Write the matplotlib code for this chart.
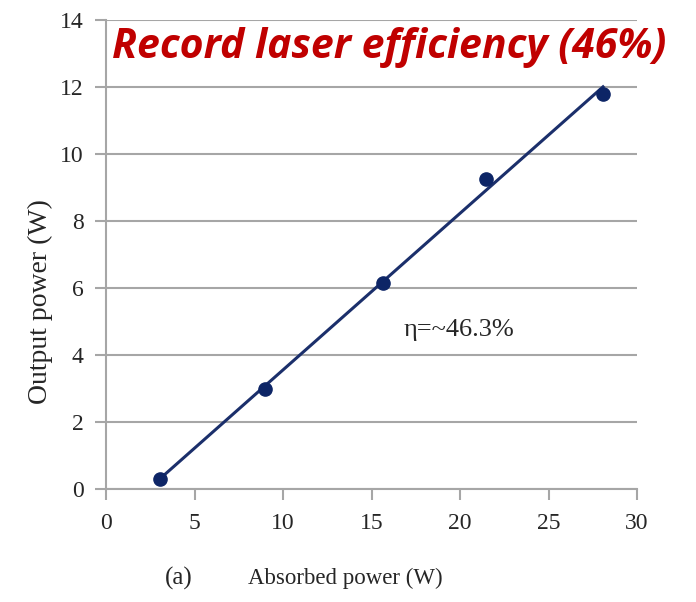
import numpy as np
import matplotlib
matplotlib.use("Agg")
import matplotlib.pyplot as plt

absorbed = [3.05, 8.98, 15.65, 21.47, 28.08]
output = [0.30, 3.00, 6.15, 9.25, 11.80]
x_ticks = [0, 5, 10, 15, 20, 25, 30]
y_ticks = [0, 2, 4, 6, 8, 10, 12, 14]
title = "Record laser efficiency (46%)"
annot = "η=~46.3%"

fig = plt.figure(figsize=(6.96, 6.02), dpi=100)
ax = fig.add_axes([106/696, 1-489/602, (637-106)/696, (489-20)/602])

grey = "#a6a6a6"
navy = "#1b2f6b"
txt = "#262626"

# fitted line
slope, inter = np.polyfit(absorbed, output, 1)
xs = np.array([min(absorbed), max(absorbed)])
ax.plot(xs, slope*xs + inter, color=navy, lw=2.2, zorder=3)
ax.plot(absorbed, output, 'o', color="#0d2566", ms=9.5, zorder=4)

ax.set_xlim(0, 30)
ax.set_ylim(0, 14)
ax.set_xticks(x_ticks)
ax.set_yticks(y_ticks)
ax.yaxis.grid(True, color=grey, lw=1.5)
ax.set_axisbelow(True)
for s in ["top", "right"]:
    ax.spines[s].set_visible(False)
for s in ["left", "bottom"]:
    ax.spines[s].set_color(grey)
    ax.spines[s].set_linewidth(1.5)
serif = "Liberation Serif"
ax.tick_params(axis="both", colors=grey, length=8, width=1.5, direction="out")
ax.tick_params(axis="y", pad=8)
ax.tick_params(axis="x", pad=9)
for lab in ax.get_xticklabels() + ax.get_yticklabels():
    lab.set_fontfamily(serif)
    lab.set_fontsize(17)
    lab.set_color(txt)

ax.text(16.8, 4.75, annot, fontfamily=serif, fontsize=19, color=txt,
        ha="left", va="center")

fig.text(40/696, 1-302/602, "Output power (W)", rotation=90, fontfamily=serif,
         fontsize=20, color=txt, ha="center", va="center")
fig.text(165/696, 1-578/602, "(a)", fontfamily=serif, fontsize=18,
         color=txt, ha="left", va="center")
fig.text(248/696, 1-578/602, "Absorbed power (W)", fontfamily=serif, fontsize=16.5,
         color=txt, ha="left", va="center")
fig.text(389.5/696, 1-47/602, title, fontfamily="Open Sans", fontweight="bold",
         fontstyle="italic", fontsize=29.5, color="#c00000", ha="center", va="center")

fig.savefig("out.png", dpi=100)
